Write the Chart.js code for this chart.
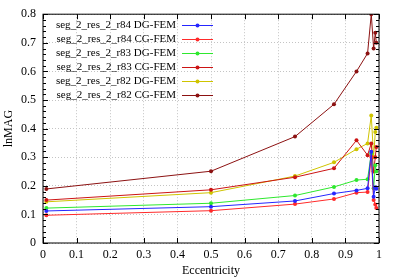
<!DOCTYPE html>
<html>
<head>
<meta charset="utf-8">
<script src="https://cdn.jsdelivr.net/npm/chart.js@4/dist/chart.umd.min.js"></script>
<style>
  html, body { margin: 0; padding: 0; background: #fff; }
  #wrap { width: 399px; height: 279px; }
</style>
</head>
<body>
<div id="wrap"><canvas id="c" width="399" height="279"></canvas></div>
<script>
const ecc = [0.01, 0.5, 0.75, 0.866, 0.933, 0.966, 0.977, 0.984, 0.989, 0.992];

const r84DG = [0.112, 0.127, 0.147, 0.173, 0.184, 0.191, 0.319, 0.162, 0.195, 0.19];
const r84CG = [0.097, 0.113, 0.136, 0.154, 0.176, 0.178, 0.301, 0.15, 0.135, 0.122];
const r83DG = [0.122, 0.139, 0.166, 0.196, 0.220, 0.223, 0.313, 0.191, 0.272, 0.25];
const r83CG = [0.150, 0.186, 0.230, 0.261, 0.359, 0.307, 0.348, 0.25, 0.30, 0.336];
const r82DG = [0.144, 0.176, 0.234, 0.282, 0.328, 0.348, 0.446, 0.30, 0.388, 0.403];
const r82CG = [0.189, 0.251, 0.372, 0.485, 0.600, 0.663, 0.800, 0.68, 0.735, 0.70];

const seriesNames = [
  "seg_2_res_2_r84 DG-FEM", "seg_2_res_2_r84 CG-FEM",
  "seg_2_res_2_r83 DG-FEM", "seg_2_res_2_r83 CG-FEM",
  "seg_2_res_2_r82 DG-FEM", "seg_2_res_2_r82 CG-FEM"
];
const seriesValues = [r84DG, r84CG, r83DG, r83CG, r82DG, r82CG];
const colors = ["#2626ff", "#ff2a2a", "#2ee82e", "#cc1414", "#cfc400", "#8c1212"];

const xTicks = [0, 0.1, 0.2, 0.3, 0.4, 0.5, 0.6, 0.7, 0.8, 0.9, 1];
const yTicks = [0, 0.1, 0.2, 0.3, 0.4, 0.5, 0.6, 0.7, 0.8];

const serif = "'Liberation Serif', 'DejaVu Serif', serif";

const datasets = seriesNames.map((name, i) => ({
  label: name,
  data: ecc.map((x, j) => ({ x: x, y: seriesValues[i][j] })),
  showLine: true,
  borderColor: colors[i],
  backgroundColor: colors[i],
  borderWidth: 1,
  pointRadius: 2,
  pointBorderWidth: 0,
  pointStyle: 'circle'
}));

// gnuplot style frame: inward ticks on all sides and a right-aligned key
const framePlugin = {
  id: 'frame',
  afterDraw(chart) {
    const ctx = chart.ctx;
    const a = chart.chartArea;
    const xs = chart.scales.x, ys = chart.scales.y;
    ctx.save();
    ctx.strokeStyle = '#000';
    ctx.lineWidth = 1;
    ctx.strokeRect(a.left, a.top, a.right - a.left, a.bottom - a.top);
    ctx.beginPath();
    xTicks.forEach(v => {
      const px = Math.round(xs.getPixelForValue(v)) + 0.5;
      ctx.moveTo(px, a.bottom); ctx.lineTo(px, a.bottom - 5);
      ctx.moveTo(px, a.top); ctx.lineTo(px, a.top + 5);
    });
    for (let k = 0; k <= 40; k++) {
      const v = k * 0.02;
      const py = Math.round(ys.getPixelForValue(v)) + 0.5;
      const len = k % 5 === 0 ? 5 : 3;
      ctx.moveTo(a.left, py); ctx.lineTo(a.left + len, py);
      ctx.moveTo(a.right, py); ctx.lineTo(a.right - len, py);
    }
    ctx.stroke();

    // key
    ctx.font = '11px ' + serif;
    ctx.textAlign = 'right';
    ctx.textBaseline = 'middle';
    seriesNames.forEach((name, i) => {
      const y = 25.5 + i * 14;
      ctx.fillStyle = '#000';
      ctx.fillText(name, 176, y);
      ctx.strokeStyle = colors[i];
      ctx.beginPath();
      ctx.moveTo(182, y); ctx.lineTo(213, y);
      ctx.stroke();
      ctx.fillStyle = colors[i];
      ctx.beginPath();
      ctx.arc(197.5, y, 2, 0, Math.PI * 2);
      ctx.fill();
    });
    ctx.restore();
  }
};

new Chart(document.getElementById('c'), {
  type: 'scatter',
  data: { datasets: datasets },
  options: {
    responsive: false,
    animation: false,
    layout: { padding: { top: 13, right: 20, left: 2, bottom: 0 } },
    plugins: { legend: { display: false }, tooltip: { enabled: false } },
    scales: {
      x: {
        type: 'linear', min: 0, max: 1,
        afterFit: s => { s.height = 36; },
        afterBuildTicks: s => { s.ticks = xTicks.map(v => ({ value: v })); },
        grid: { color: '#c4c4c4', borderDash: [1, 2], drawTicks: false },
        border: { display: false, dash: [1, 2] },
        ticks: {
          color: '#000', padding: 5, maxRotation: 0,
          font: { family: serif, size: 12 },
          callback: v => String(+v.toFixed(1))
        },
        title: {
          display: true, text: 'Eccentricity', color: '#000',
          font: { family: serif, size: 12 }, padding: { top: 0, bottom: 1 }
        }
      },
      y: {
        type: 'linear', min: 0, max: 0.8,
        afterFit: s => { s.width = 41; },
        afterBuildTicks: s => { s.ticks = yTicks.map(v => ({ value: v })); },
        grid: { color: '#c4c4c4', borderDash: [1, 2], drawTicks: false },
        border: { display: false, dash: [1, 2] },
        ticks: {
          color: '#000', padding: 7,
          font: { family: serif, size: 12 },
          callback: v => String(+v.toFixed(1))
        },
        title: {
          display: true, text: 'lnMAG', color: '#000',
          font: { family: serif, size: 12 }, padding: { top: 0, bottom: 0 }
        }
      }
    }
  },
  plugins: [framePlugin]
});
</script>
</body>
</html>
